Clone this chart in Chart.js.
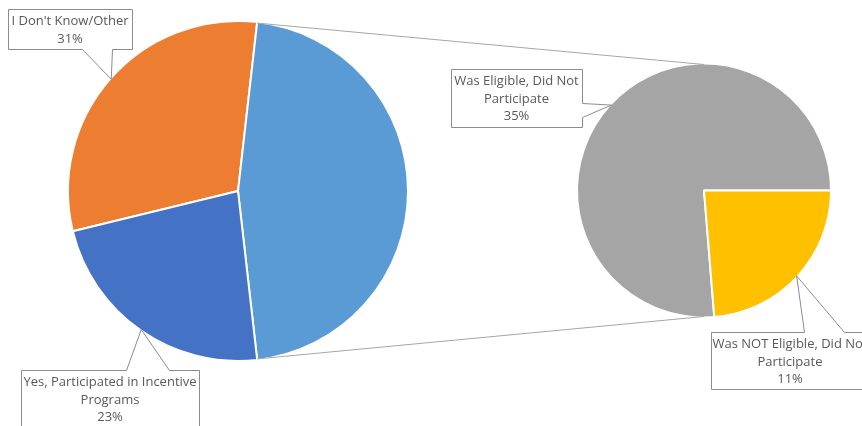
<!DOCTYPE html>
<html lang="en">
<head>
<meta charset="UTF-8">
<title>Incentive Program Participation</title>
<script src="https://cdn.jsdelivr.net/npm/chart.js"></script>
<style>
  body { margin: 0; background: #fff; }
  #wrap { position: relative; width: 862px; height: 426px; overflow: hidden; }
  #wrap canvas { position: absolute; left: 0; top: 0; }
</style>
</head>
<body>
<div id="wrap">
  <canvas id="mainPie" width="862" height="426"></canvas>
  <canvas id="subPie" width="862" height="426"></canvas>
</div>
<script>
// main pie slices (the rest goes to the "Other" slice, split out in the second pie)
const mainLabels = ["I Don't Know/Other", ["Yes, Participated in Incentive", "Programs"]];
const mainValues = [30.6, 23.0];
const mainColors = ['#ED7D31', '#4472C4'];
const otherColor = '#5B9BD5';

// second pie (breakdown of "Other")
const subLabels = [["Was Eligible, Did Not", "Participate"], ["Was NOT Eligible, Did Not", "Participate"]];
const subValues = [35.4, 11.0];
const subColors = ['#A5A5A5', '#FFC000'];

const otherValue = subValues.reduce((a, b) => a + b, 0);
const total = mainValues.reduce((a, b) => a + b, 0) + otherValue;

// callout boxes (layout only)
const mainBoxes = [
  {x: 8, y: 9, w: 124, h: 40, side: 'bottom', b1: 82, b2: 112},
  {x: 21, y: 370, w: 178, h: 62, side: 'top', b1: 126, b2: 169}
];
const subBoxes = [
  {x: 451, y: 69, w: 131, h: 58, side: 'right', b1: 103, b2: 117},
  {x: 711, y: 332, w: 158, h: 57, side: 'top', b1: 804, b2: 844}
];

const FONT = '13px "Open Sans"';
const LINE_H = 17.3;

function arcTip(arc) {
  const mid = (arc.startAngle + arc.endAngle) / 2;
  const r = arc.outerRadius - 1;
  return {x: arc.x + Math.cos(mid) * r, y: arc.y + Math.sin(mid) * r};
}

function drawCallout(ctx, box, tip, lines) {
  const x = box.x + 0.5, y = box.y + 0.5, w = box.w, h = box.h;
  ctx.save();
  ctx.beginPath();
  if (box.side === 'bottom') {
    ctx.moveTo(x, y);
    ctx.lineTo(x + w, y);
    ctx.lineTo(x + w, y + h);
    ctx.lineTo(box.b2 + 0.5, y + h);
    ctx.lineTo(tip.x, tip.y);
    ctx.lineTo(box.b1 + 0.5, y + h);
    ctx.lineTo(x, y + h);
  } else if (box.side === 'top') {
    ctx.moveTo(x, y);
    ctx.lineTo(box.b1 + 0.5, y);
    ctx.lineTo(tip.x, tip.y);
    ctx.lineTo(box.b2 + 0.5, y);
    ctx.lineTo(x + w, y);
    ctx.lineTo(x + w, y + h);
    ctx.lineTo(x, y + h);
  } else {
    ctx.moveTo(x, y);
    ctx.lineTo(x + w, y);
    ctx.lineTo(x + w, box.b1 + 0.5);
    ctx.lineTo(tip.x, tip.y);
    ctx.lineTo(x + w, box.b2 + 0.5);
    ctx.lineTo(x + w, y + h);
    ctx.lineTo(x, y + h);
  }
  ctx.closePath();
  ctx.fillStyle = '#fff';
  ctx.fill();
  ctx.strokeStyle = '#8c8c8c';
  ctx.lineWidth = 1;
  ctx.stroke();

  ctx.fillStyle = '#595959';
  ctx.font = FONT;
  ctx.textAlign = 'center';
  ctx.textBaseline = 'middle';
  const cx = box.x + box.w / 2;
  lines.forEach((t, i) => ctx.fillText(t, cx, box.y + 12.5 + i * LINE_H));
  ctx.restore();
}

function labelLines(label, value) {
  const lines = Array.isArray(label) ? label.slice() : [label];
  lines.push(Math.round(value / total * 100) + '%');
  return lines;
}

// main pie: order clockwise = IDK, Other, Yes; Other is centred on the right
const mainData = [mainValues[0], otherValue, mainValues[1]];
const mainRotation = 90 - (mainValues[0] + otherValue / 2) / total * 360;

const mainCallouts = {
  id: 'mainCallouts',
  afterDraw(chart) {
    const ctx = chart.ctx;
    const arcs = chart.getDatasetMeta(0).data;
    drawCallout(ctx, mainBoxes[0], arcTip(arcs[0]), labelLines(mainLabels[0], mainValues[0]));
    drawCallout(ctx, mainBoxes[1], arcTip(arcs[2]), labelLines(mainLabels[1], mainValues[1]));
  }
};

new Chart(document.getElementById('mainPie'), {
  type: 'pie',
  data: {
    labels: [mainLabels[0], 'Other', mainLabels[1]],
    datasets: [{
      data: mainData,
      backgroundColor: [mainColors[0], otherColor, mainColors[1]],
      borderColor: '#fff',
      borderWidth: 2
    }]
  },
  options: {
    responsive: false,
    animation: false,
    rotation: mainRotation,
    layout: { padding: { left: 67, right: 453, top: 20, bottom: 64 } },
    plugins: { legend: { display: false }, tooltip: { enabled: false } }
  },
  plugins: [mainCallouts]
});

// second pie: "NOT eligible" sits just below the right-hand horizontal
const subRotation = 90 + subValues[1] / otherValue * 360;

const subCallouts = {
  id: 'subCallouts',
  afterDraw(chart) {
    const ctx = chart.ctx;
    const arcs = chart.getDatasetMeta(0).data;

    // connector lines from the split edges of "Other" to top/bottom of second pie
    const main = Chart.getChart('mainPie');
    const other = main.getDatasetMeta(0).data[1];
    const r1 = other.outerRadius - 1;
    const p = arcs[0];
    const r2 = p.outerRadius - 1;
    ctx.save();
    ctx.strokeStyle = '#a6a6a6';
    ctx.lineWidth = 1;
    ctx.beginPath();
    ctx.moveTo(other.x + Math.cos(other.startAngle) * r1, other.y + Math.sin(other.startAngle) * r1);
    ctx.lineTo(p.x, p.y - r2);
    ctx.moveTo(other.x + Math.cos(other.endAngle) * r1, other.y + Math.sin(other.endAngle) * r1);
    ctx.lineTo(p.x, p.y + r2);
    ctx.stroke();
    ctx.restore();

    drawCallout(ctx, subBoxes[0], arcTip(arcs[0]), labelLines(subLabels[0], subValues[0]));
    drawCallout(ctx, subBoxes[1], arcTip(arcs[1]), labelLines(subLabels[1], subValues[1]));
  }
};

new Chart(document.getElementById('subPie'), {
  type: 'pie',
  data: {
    labels: subLabels,
    datasets: [{
      data: subValues,
      backgroundColor: subColors,
      borderColor: '#fff',
      borderWidth: 2
    }]
  },
  options: {
    responsive: false,
    animation: false,
    rotation: subRotation,
    layout: { padding: { left: 576, right: 30, top: 62, bottom: 107 } },
    plugins: { legend: { display: false }, tooltip: { enabled: false } }
  },
  plugins: [subCallouts]
});
</script>
</body>
</html>
